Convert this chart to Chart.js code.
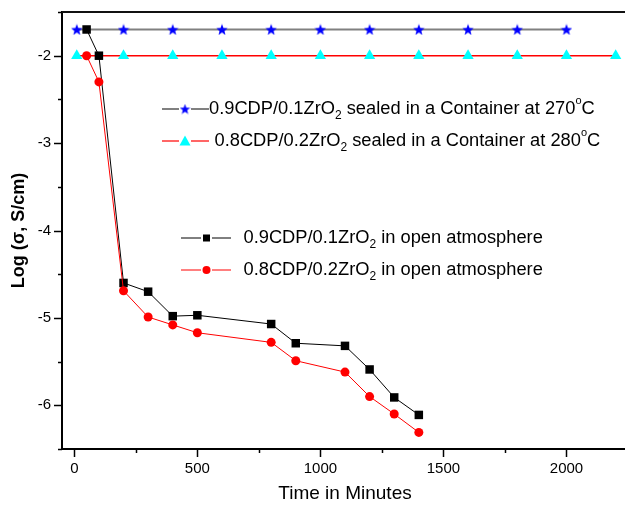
<!DOCTYPE html>
<html>
<head>
<meta charset="utf-8">
<script src="https://cdn.jsdelivr.net/npm/chart.js@4/dist/chart.umd.min.js"></script>
<style>
html,body{margin:0;padding:0;background:#fff;overflow:hidden;}
#wrap{position:relative;width:640px;height:505px;}
</style>
</head>
<body>
<div id="wrap"><canvas id="c" width="640" height="505"></canvas></div>
<script>
// ---- data ----
const sealedTime1 = [10, 200, 400, 600, 800, 1000, 1200, 1400, 1600, 1800, 2000];
const sealedLog1  = [-1.7, -1.7, -1.7, -1.7, -1.7, -1.7, -1.7, -1.7, -1.7, -1.7, -1.7];
const sealedTime2 = [10, 200, 400, 600, 800, 1000, 1200, 1400, 1600, 1800, 2000, 2200];
const sealedLog2  = [-2, -2, -2, -2, -2, -2, -2, -2, -2, -2, -2, -2];
const openTime    = [50, 100, 200, 300, 400, 500, 800, 900, 1100, 1200, 1300, 1400];
const openLog1    = [-1.7, -2.0, -4.6, -4.7, -4.98, -4.97, -5.07, -5.29, -5.32, -5.59, -5.91, -6.11];
const openLog2    = [-2.0, -2.3, -4.69, -4.99, -5.08, -5.17, -5.28, -5.49, -5.62, -5.9, -6.1, -6.31];
const xTickValues = [0, 250, 500, 750, 1000, 1250, 1500, 1750, 2000, 2250];
const xLabelValues = [0, 500, 1000, 1500, 2000];
const yTickValues = [-6.5, -6, -5.5, -5, -4.5, -4, -3.5, -3, -2.5, -2, -1.5];
const yLabelValues = [-6, -5, -4, -3, -2];

const FONT = '"Liberation Sans", Arial, sans-serif';

function pts(xs, ys){ return xs.map((x,i)=>({x:x, y:ys[i]})); }

function makeStar(size, color){
  const c = document.createElement('canvas');
  c.width = size; c.height = size;
  const g = c.getContext('2d');
  const cx = size/2, cy = size/2, R = size/2, r = R*0.42;
  g.beginPath();
  for(let i=0;i<10;i++){
    const a = -Math.PI/2 + i*Math.PI/5;
    const rr = i%2===0 ? R : r;
    const px = cx + rr*Math.cos(a), py = cy + rr*Math.sin(a) + size*0.05;
    if(i===0) g.moveTo(px,py); else g.lineTo(px,py);
  }
  g.closePath();
  g.fillStyle = color; g.fill();
  return c;
}
const starImg = makeStar(12, '#0000ff');
const starImgSmall = makeStar(11, '#0000ff');

const tickPlugin = {
  id: 'ticksAndFrame',
  afterDraw(chart){
    const ctx = chart.ctx;
    const ca = chart.chartArea;
    const xs = chart.scales.x, ys = chart.scales.y;
    ctx.save();
    ctx.strokeStyle = '#000'; ctx.lineWidth = 1.5;
    xTickValues.forEach(v=>{
      const px = Math.round(xs.getPixelForValue(v)) + 0.5;
      const len = xLabelValues.includes(v) ? 8 : 4;
      ctx.beginPath(); ctx.moveTo(px, ca.bottom); ctx.lineTo(px, ca.bottom + len); ctx.stroke();
    });
    yTickValues.forEach(v=>{
      const py = Math.round(ys.getPixelForValue(v)) + 0.5;
      const len = yLabelValues.includes(v) ? 8 : 4;
      ctx.beginPath(); ctx.moveTo(ca.left, py); ctx.lineTo(ca.left - len, py); ctx.stroke();
    });
    ctx.strokeStyle = '#111'; ctx.lineWidth = 2;
    ctx.beginPath(); ctx.moveTo(ca.left, ca.top); ctx.lineTo(ca.right, ca.top); ctx.stroke();
    ctx.restore();
  }
};

const legendPlugin = {
  id: 'customLegend',
  afterDatasetsDraw(chart){
    const ctx = chart.ctx;
    ctx.save();
    function drawRich(x, y, parts){
      ctx.textBaseline = 'middle'; ctx.textAlign = 'left'; ctx.fillStyle = '#000';
      let cx = x;
      for(const p of parts){
        let size = 18.3, dy = 0;
        if(p.sub){ size = 12; dy = 7; }
        if(p.sup){ size = 11; dy = -8; }
        ctx.font = size + 'px ' + FONT;
        ctx.fillText(p.t, cx, y + dy);
        cx += ctx.measureText(p.t).width;
      }
    }
    function lineSym(x1, x2, y, color, w){
      ctx.strokeStyle = color; ctx.lineWidth = w;
      ctx.beginPath(); ctx.moveTo(x1, y); ctx.lineTo(x2, y); ctx.stroke();
    }
    // legend 1
    let y = 109;
    lineSym(162, 179, y, '#808080', 2); lineSym(191, 209, y, '#808080', 2);
    ctx.drawImage(starImgSmall, 185-5.5, y-5.5);
    drawRich(209, y, [{t:'0.9CDP/0.1ZrO'},{t:'2',sub:true},{t:' sealed in a Container at 270'},{t:'o',sup:true},{t:'C'}]);
    y = 141;
    lineSym(162, 179, y, '#ff0000', 1.2); lineSym(191, 209, y, '#ff0000', 1.2);
    ctx.fillStyle = '#00ffff';
    ctx.beginPath(); ctx.moveTo(185, y-5.5); ctx.lineTo(190.5, y+4.5); ctx.lineTo(179.5, y+4.5); ctx.closePath(); ctx.fill();
    drawRich(214.5, y, [{t:'0.8CDP/0.2ZrO'},{t:'2',sub:true},{t:' sealed in a Container at 280'},{t:'o',sup:true},{t:'C'}]);
    // legend 2
    y = 238;
    lineSym(181, 201, y, '#000', 1); lineSym(212, 231, y, '#000', 1);
    ctx.fillStyle = '#000'; ctx.fillRect(203, y-3.5, 7, 7);
    drawRich(243.5, y, [{t:'0.9CDP/0.1ZrO'},{t:'2',sub:true},{t:' in open atmosphere'}]);
    y = 270;
    lineSym(181, 201, y, '#ff0000', 1); lineSym(212, 231, y, '#ff0000', 1);
    ctx.fillStyle = '#ff0000'; ctx.beginPath(); ctx.arc(206.5, y, 4, 0, Math.PI*2); ctx.fill();
    drawRich(243.5, y, [{t:'0.8CDP/0.2ZrO'},{t:'2',sub:true},{t:' in open atmosphere'}]);
    ctx.restore();
  }
};

new Chart(document.getElementById('c'), {
  type: 'scatter',
  data: {
    datasets: [
      { label: 'open2', data: pts(openTime, openLog2), showLine: true, borderColor: '#ff0000', borderWidth: 1,
        backgroundColor: '#ff0000', pointStyle: 'circle', pointRadius: 4.5, pointBorderWidth: 0 },
      { label: 'open1', data: pts(openTime, openLog1), showLine: true, borderColor: '#000000', borderWidth: 1,
        backgroundColor: '#000000', pointStyle: 'rect', pointRadius: 6, pointBorderWidth: 0 },
      { label: 'sealed2', data: pts(sealedTime2, sealedLog2), showLine: true, borderColor: '#ff0000', borderWidth: 1.5,
        backgroundColor: '#00ffff', pointStyle: 'triangle', pointRadius: 6.5, pointBorderWidth: 0 },
      { label: 'sealed1', data: pts(sealedTime1, sealedLog1), showLine: true, borderColor: '#808080', borderWidth: 2,
        backgroundColor: '#0000ff', pointStyle: starImg, pointRadius: 6, pointBorderWidth: 0 }
    ]
  },
  options: {
    responsive: false,
    animation: false,
    events: [],
    layout: { padding: { top: 12, right: 12, left: 0, bottom: 0 } },
    plugins: { legend: { display: false }, tooltip: { enabled: false } },
    scales: {
      x: {
        type: 'linear', min: -50, max: 2250,
        afterBuildTicks(s){ s.ticks = xTickValues.map(v=>({value:v})); },
        afterFit(s){ s.height = 56; },
        border: { display: true, color: '#000', width: 2 },
        grid: { display: true, drawOnChartArea: false, drawTicks: true, tickLength: 8, tickColor: 'rgba(0,0,0,0)' },
        ticks: { color: '#000', font: { family: FONT, size: 15 }, padding: 3, maxRotation: 0, autoSkip: false,
          callback: (v)=> xLabelValues.includes(v) ? String(v) : '' },
        title: { display: true, text: 'Time in Minutes', color: '#000', font: { family: FONT, size: 19 }, padding: { top: 0, bottom: 0 } }
      },
      y: {
        type: 'linear', min: -6.5, max: -1.5,
        afterBuildTicks(s){ s.ticks = yTickValues.map(v=>({value:v})); },
        afterFit(s){ s.width = 62; },
        border: { display: true, color: '#000', width: 2 },
        grid: { display: true, drawOnChartArea: false, drawTicks: true, tickLength: 8, tickColor: 'rgba(0,0,0,0)' },
        ticks: { color: '#000', font: { family: FONT, size: 15 }, padding: 3, autoSkip: false,
          callback: (v)=> yLabelValues.includes(v) ? String(v) : '' },
        title: { display: true, text: 'Log (σ, S/cm)', color: '#000', font: { family: FONT, size: 18, weight: 'bold' }, padding: { top: 8, bottom: 0 } }
      }
    }
  },
  plugins: [legendPlugin, tickPlugin]
});
</script>
</body>
</html>
